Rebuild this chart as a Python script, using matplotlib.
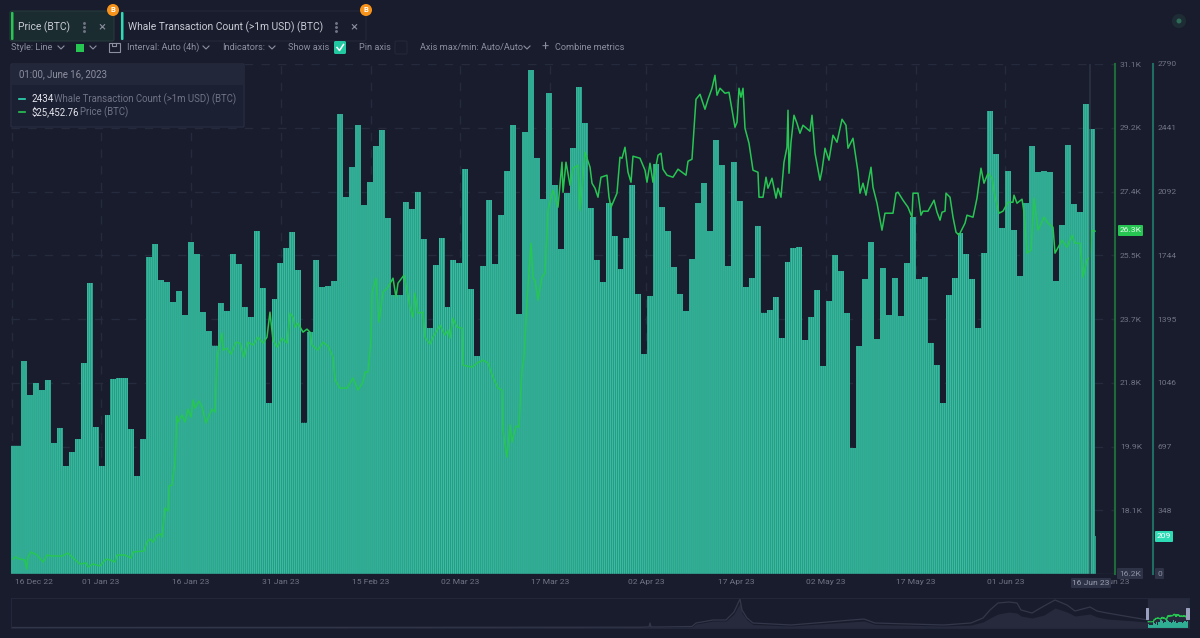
import numpy as np
import pandas as pd
import matplotlib
matplotlib.use("Agg")
import matplotlib.pyplot as plt
from matplotlib.patches import Rectangle, FancyBboxPatch, Circle

plt.rcParams['font.family'] = ['Roboto', 'DejaVu Sans']

# daily whale transaction count, 17 Dec 22 to 16 Jun 23
whale_counts = [
    702, 702, 1165, 979, 1045, 1006, 1061, 717, 799, 591, 667, 738, 1154, 1592, 804, 591, 870, 1067, 1072, 1072,
    793, 536, 738, 1734, 1805, 1608, 1597, 1488, 1548, 1417, 1816, 1750, 1433, 1329, 1250, 1482, 1439, 1750, 1696, 1460,
    1406, 1876, 1564, 935, 1504, 1701, 1783, 1871, 1663, 828, 1324, 1718, 1570, 1575, 1603, 2516, 2062, 2226, 2456, 2018,
    2144, 2341, 2429, 1947, 1526, 1526, 2035, 1997, 2090, 1832, 1346, 1690, 1838, 1460, 1718, 1701, 2215, 1559, 1192, 1685,
    2046, 1696, 1964, 2204, 2456, 1422, 2418, 2757, 2276, 2051, 2631, 2128, 1778, 2084, 2330, 2664, 2467, 2002, 1718, 1597,
    2029, 1849, 1668, 1838, 2128, 1532, 1203, 1521, 2243, 2007, 1876, 1679, 1532, 1439, 1723, 2029, 2139, 1876, 2374, 2237,
    1685, 2254, 2040, 1570, 1619, 1904, 1429, 1444, 1515, 1291, 1707, 1783, 1789, 1280, 1406, 1553, 1138, 1493, 1745, 1657,
    1428, 689, 1247, 1614, 1816, 1285, 1674, 1417, 1619, 1411, 1701, 1953, 1614, 1625, 1264, 1143, 935, 1526, 1619, 1865,
    1750, 1614, 1346, 1756, 2533, 2297, 1893, 2204, 1882, 1630, 2029, 2341, 2199, 2204, 2199, 1603, 1909, 2347, 2024, 1980,
    2571, 2434, 209,
]

# BTC price, days counted from 01 Jan 23
price_days = [
    -14.69, -14.36, -13.52, -12.69, -12.40, -12.19, -11.69, -10.68, -9.68, -9.01, -8.18, -6.51, -5.51, -4.84, -3.51,
    -2.50, -2.17, -1.34, -0.17, 0.83, 1.50, 2.34, 2.67, 4.01, 5.01, 5.34, 7.18, 7.68, 8.18, 8.68, 9.35, 10.02, 10.18,
    10.68, 11.19, 11.35, 11.85, 12.35, 12.69, 12.85, 13.52, 14.02, 14.52, 15.03, 15.36, 15.69, 16.36, 16.86, 17.53,
    17.86, 18.53, 19.03, 19.37, 19.87, 20.20, 20.37, 21.04, 21.70, 22.54, 23.21, 23.87, 24.54, 25.38, 26.21, 27.05,
    27.71, 28.21, 28.71, 29.38, 30.22, 31.05, 31.55, 32.05, 32.39, 32.89, 33.72, 34.39, 34.89, 35.23, 36.23, 37.06,
    37.90, 38.73, 39.07, 39.90, 41.07, 42.07, 42.90, 43.74, 44.07, 44.57, 45.08, 45.24, 45.91, 46.41, 47.08, 47.91,
    48.75, 49.25, 49.58, 50.58, 51.09, 51.59, 52.09, 52.42, 52.92, 53.76, 54.09, 54.92, 55.43, 56.59, 57.43, 57.93,
    58.26, 58.76, 59.43, 60.27, 60.43, 61.94, 62.77, 63.77, 64.61, 65.44, 66.28, 66.94, 67.11, 67.78, 68.28, 68.61,
    69.28, 69.78, 70.28, 70.62, 71.12, 71.79, 72.12, 72.45, 72.95, 73.62, 74.12, 74.62, 75.46, 76.29, 76.96, 77.13,
    77.63, 78.30, 78.80, 79.63, 79.97, 80.80, 81.64, 81.97, 82.47, 82.97, 83.47, 84.47, 84.81, 85.14, 86.14, 86.64,
    86.98, 87.48, 87.98, 88.48, 88.81, 89.98, 90.82, 91.15, 91.65, 92.15, 92.99, 93.49, 93.82, 94.49, 95.49, 96.33,
    97.66, 98.00, 98.66, 99.33, 100.00, 100.83, 101.34, 102.00, 102.50, 102.84, 103.34, 104.17, 104.84, 105.84,
    106.18, 106.51, 106.84, 107.18, 107.51, 108.18, 108.85, 109.68, 109.85, 110.52, 111.02, 111.35, 112.02, 112.69,
    113.02, 113.52, 114.02, 114.52, 114.69, 114.86, 115.19, 115.69, 116.19, 116.69, 117.19, 118.36, 118.70, 119.20,
    120.03, 120.37, 120.87, 121.53, 122.20, 122.87, 123.71, 124.37, 124.71, 125.54, 126.38, 126.71, 127.21, 127.71,
    128.05, 128.55, 128.88, 129.55, 130.38, 130.88, 132.22, 132.72, 133.06, 133.89, 134.72, 135.39, 135.56, 136.39,
    136.89, 137.23, 138.06, 139.07, 139.57, 140.07, 140.40, 140.90, 141.07, 141.74, 142.24, 142.74, 143.24, 144.24,
    144.57, 145.58, 146.24, 146.91, 147.41, 148.08, 148.75, 149.25, 149.92, 150.58, 151.42, 152.25, 152.42, 152.92,
    153.76, 154.09, 154.59, 155.26, 155.76, 156.43, 157.43, 158.10, 158.93, 159.27, 160.43, 161.27, 162.10, 162.60,
    163.44, 163.94, 164.60, 165.11, 165.44, 165.94,
]
prices = [
    16638, 16696, 16638, 16609, 16346, 16696, 16842, 16755, 16550, 16755, 16726, 16726, 16813, 16696, 16492,
    16521, 16404, 16492, 16434, 16638, 16609, 16550, 16755, 16755, 16667, 16842, 16872, 17134, 17222, 17134, 17339, 17368, 17280,
    18127, 18040, 18770, 18799, 19441, 20814, 20638, 20843, 20638, 21018, 20784, 21281, 21047, 21252, 21076, 20609,
    20755, 21018, 20930, 22536, 22974, 23237, 22741, 22799, 22624, 22974, 22945, 22536, 22974, 22887, 23120, 22945,
    23120, 23850, 23033, 22828, 23091, 22945, 23821, 23704, 23412, 23529, 23266, 23354, 23266, 22887, 22741, 22974,
    22858, 22536, 21865, 21631, 21631, 21923, 21573, 21806, 22098, 22098, 23033, 24405, 24843, 23558, 24434, 24580,
    24843, 24288, 24697, 24931, 24493, 23996, 23704, 24405, 23821, 23850, 23120, 22916, 23120, 23471, 23179, 23325,
    23091, 23675, 23412, 23383, 22303, 22244, 22361, 22449, 22361, 21952, 21631, 21573, 20405, 19616, 20551, 20054,
    20522, 20492, 22157, 22536, 24201, 25865, 24843, 24785, 24201, 24872, 24989, 26829, 27413, 26916, 28230, 27354,
    28230, 27559, 28055, 28143, 26829, 28522, 28084, 27617, 27471, 27208, 27792, 27851, 27208, 26916, 27325, 28376,
    28347, 28668, 27938, 27646, 28406, 28347, 27997, 27646, 28201, 27646, 28435, 28493, 28026, 27851, 27792, 28026,
    27851, 28260, 28318, 30070, 30216, 29778, 30070, 30391, 30771, 30187, 30391, 30245, 30274, 29252, 29398,
    30391, 30128, 30391, 29223, 28785, 27997, 27938, 27208, 27208, 27792, 27471, 27763, 27179, 27471,
    27208, 28230, 28668, 29749, 27909, 28814, 29603, 29369, 29077, 29311, 29136, 29603, 28493,
    27705, 27997, 28639, 28289, 29019, 28814, 29486, 29311, 28639, 28931, 27938, 27325, 27617, 27267, 27617,
    28084, 27500, 27033, 26245, 26741, 26741, 27325, 27354, 27121, 26916, 26624, 27325, 27325,
    26683, 26800, 26800, 27121, 26770, 26537, 26770, 26800, 27325, 27208, 26624, 26186, 26099, 26449,
    26683, 26624, 27179, 28055, 27617, 27909, 27763, 27208, 26741, 26800, 27062, 27062, 27267, 27033,
    27150, 26770, 25573, 25661, 27179, 26245, 26624, 26449, 26332, 25573, 25953, 25748, 26099,
    25865, 25865, 24872, 25369, 25456, 26245, 26216,
]

# long history strip under the chart
overview_pos = [0, 629, 638, 639, 640, 649, 681, 685, 702, 715, 723, 729, 731, 736, 742, 780, 853, 864, 933, 960,
                972, 979, 987, 998, 1006, 1010, 1021, 1033, 1044, 1056, 1064, 1079, 1086, 1096, 1125, 1137]
overview_line = [0.5, 0.8, 1, 5, 1, 1, 1.5, 5, 8, 8, 16, 29, 18, 10, 5, 3, 9, 5, 3, 5,
                 10, 18, 25, 26, 25, 18, 15, 22, 28, 23, 17, 21, 17, 15, 10, 8]
overview_area = [0.3, 0.5, 0.6, 5, 0.6, 0.6, 1, 4, 7, 7, 14, 25, 15, 8, 3.5, 2, 7, 3.5, 2, 3,
                 6, 10, 14, 16, 15, 12, 10, 13, 20, 16, 12, 14, 11, 9, 7, 6]

x_tick_labels = ["01 Jan 23", "16 Jan 23", "31 Jan 23", "15 Feb 23", "02 Mar 23", "17 Mar 23",
                 "02 Apr 23", "17 Apr 23", "02 May 23", "17 May 23", "01 Jun 23"]
count_ticks = [0, 348, 697, 1046, 1395, 1744, 2092, 2441, 2790]
price_ticks = [16200, 18060, 19930, 21790, 23650, 25510, 27380, 29240, 31100]
price_tick_labels = ["", "18.1K", "19.9K", "21.8K", "23.7K", "25.5K", "27.4K", "29.2K", "31.1K"]

W, H = 1200, 638
BG = '#191c2c'
GREEN = '#27c653'
TEAL = '#2ddbb5'
GREY = '#8b8f9f'
FAINT = '#6f7385'
TICK_SIZE = 6.1
PX_PER_DAY = 5.99
JAN1_PX = 101


def day(px):
    return (px - JAN1_PX) / PX_PER_DAY


def px_axes(fig, x0, y0, x1, y1, **kw):
    return fig.add_axes([x0 / W, 1 - y1 / H, (x1 - x0) / W, (y1 - y0) / H], **kw)


fig = plt.figure(figsize=(12, 6.38), dpi=100, facecolor=BG)

# main chart: counts as bars, price on its own scale
ax = px_axes(fig, 11, 64, 1115, 574)
ax.set_facecolor(BG)
ax.set_xlim(day(11), day(1115))
ax.set_ylim(0, 2790)
for s in ax.spines.values():
    s.set_visible(False)

counts = np.array(whale_counts, dtype=float)
bar_step = 0.99583
bar_end = day(1096)
edges = day(9.07) + bar_step * np.arange(len(counts))
ax.bar(edges, counts, width=np.minimum(bar_step, bar_end - edges), align='edge', color='#2a9a85', zorder=2)

# every day is made of a few thin samples, which gives the striped look
sub_n = 3
sub_w = bar_step / sub_n * 0.5
sub_edges = np.repeat(edges, sub_n) + np.tile(np.arange(sub_n) * bar_step / sub_n, len(counts)) + sub_w * 0.5
keep = sub_edges + sub_w <= bar_end
stripes = ax.bar(sub_edges[keep], np.repeat(counts, sub_n)[keep], width=sub_w, align='edge', color='#38bea2',
                 linewidth=0, zorder=3)
for patch in stripes:
    patch.set_snap(False)

tick_dates = pd.to_datetime(x_tick_labels, format="%d %b %y")
tick_days = (tick_dates - pd.Timestamp("2023-01-01")).days.values
ax.set_xticks(tick_days)
ax.set_xticklabels(x_tick_labels, fontsize=TICK_SIZE, color=FAINT)
ax.tick_params(axis='x', length=0, pad=3.5)
ax.set_yticks(count_ticks)
ax.grid(True, color='#262a3d', linewidth=1, linestyle=(0, (6, 6)), zorder=0)
ax.set_axisbelow(True)
ax.axvline(day(11.5), color='#262a3d', linewidth=1, linestyle=(0, (6, 6)), zorder=0)

ax2 = ax.twinx()
ax2.set_ylim(16200, 31100)
for s in ax2.spines.values():
    s.set_visible(False)
ax2.set_yticks(price_ticks)
ax2.set_yticklabels(price_tick_labels, fontsize=TICK_SIZE, color=FAINT)
ax2.tick_params(axis='y', length=0, pad=3.5)
ax2.plot(price_days, prices, color=GREEN, linewidth=1.1, solid_joinstyle='round', zorder=5)

# twinx moves the first scale back to the left, so put its labels out past the price labels
ax.set_yticklabels([""] + [str(v) for v in count_ticks[1:]], fontsize=TICK_SIZE, color=FAINT)
ax.tick_params(axis='y', length=0, left=False, right=False, labelleft=False, labelright=True, pad=30.5)

# crosshair on the hovered sample
ax2.axvline(day(1090), color='#33384c', linewidth=1.2, alpha=0.75, zorder=6)
ax.axhline(0, color='#2b2f42', linewidth=1, zorder=4)

# history strip
ov = px_axes(fig, 11, 598, 1189, 628)
ov.set_facecolor(BG)
ov.set_xlim(0, 1178)
ov.set_ylim(0, 30)
ov.set_xticks([])
ov.set_yticks([])
for s in ov.spines.values():
    s.set_edgecolor('#23273a')
    s.set_linewidth(0.8)
ov.fill_between(overview_pos, 0, overview_area, color='#262a3c', linewidth=0)
ov.plot(overview_pos, overview_line, color='#33374a', linewidth=0.9)
ov.add_patch(Rectangle((1137, 0), 40, 30, color='#262a3c', zorder=1.5))
to_strip = lambda d: 1137 + (np.asarray(d) - day(11)) / (day(1096) - day(11)) * 40
ov.fill_between(to_strip(edges), 0, counts / 2790 * 10, step='post', color='#2fae94', linewidth=0, zorder=2)
ov.plot(to_strip(price_days), 6 + (np.array(prices) - 16200) / 14900 * 8, color=GREEN, linewidth=0.8, zorder=3)

# controls, tooltip and tags in pixel coordinates on a transparent layer
ui = fig.add_axes([0, 0, 1, 1], facecolor='none')
ui.set_xlim(0, W)
ui.set_ylim(H, 0)
ui.axis('off')


def box(x0, y0, x1, y1, fc, ec='none', lw=0.8, r=2, z=10):
    ui.add_patch(FancyBboxPatch((x0 + r, y0 + r), x1 - x0 - 2 * r, y1 - y0 - 2 * r,
                                boxstyle=f"round,pad={r},rounding_size={r}", fc=fc, ec=ec, lw=lw, zorder=z))


def label(x, y, s, color=GREY, size=6.6, ha='left', z=12, **kw):
    ui.text(x, y, s, color=color, fontsize=size, ha=ha, va='center', zorder=z, **kw)


def chevron(x, y=47.5):
    ui.plot([x - 3, x, x + 3], [y - 1.5, y + 1.5, y - 1.5], color=GREY, lw=0.8, zorder=12)


# metric tabs
box(10, 11, 114, 41, '#1b2c30', '#263a3c')
box(11, 12, 13.5, 40, GREEN, r=1, z=11)
label(18, 27, "Price (BTC)", color='#c9ccd6', size=7.4)
box(121, 11, 366, 41, BG, '#23273a')
box(121, 12, 123.5, 40, TEAL, r=1, z=11)
label(128, 27, "Whale Transaction Count (>1m USD) (BTC)", color='#c9ccd6', size=7.4)
for x0 in (84, 336):
    ui.plot([x0] * 3, [23, 27, 31], ls='none', marker='o', ms=1.1, color=FAINT, zorder=12)
for x0 in (102, 354):
    label(x0, 26.5, "\u00d7", color=GREY, size=9.5, ha='center')
for x0 in (113, 366):
    ui.add_patch(Circle((x0, 10), 6, fc='#f7931a', ec='none', zorder=13))
    label(x0, 10, "B", color='white', size=5.5, ha='center', z=14, fontweight='bold')

# toolbar
label(11, 47.5, "Style: Line")
chevron(61)
ui.add_patch(Rectangle((76, 43.5), 8, 8, fc=GREEN, ec='none', zorder=12))
chevron(93)
ui.add_patch(Rectangle((108.5, 43), 11, 8.5, fc='none', ec=GREY, lw=0.8, zorder=12))
ui.plot([112, 112, 116, 116], [43, 46, 46, 43], color=GREY, lw=0.8, zorder=12)
label(127, 47.5, "Interval: Auto (4h)")
chevron(206)
label(222, 47.5, "Indicators:")
chevron(272)
label(288, 47.5, "Show axis")
box(334, 41, 346, 54, '#22c9a0', r=1.5)
ui.plot([337, 339.5, 343.5], [47.5, 50.5, 44.5], color='white', lw=1.1, zorder=12)
label(359, 47.5, "Pin axis")
box(395, 41, 407, 54, BG, '#23273a', r=1.5)
label(420, 47.5, "Axis max/min: Auto/Auto")
chevron(527)
label(545, 47.5, "+", ha='center', size=9)
label(555, 47.5, "Combine metrics")
ui.add_patch(Circle((1179, 21), 7, fc='#1e2c35', ec='none', zorder=10))
ui.add_patch(Circle((1179, 21), 2.5, fc='#2d6a58', ec='none', zorder=11))

# tooltip
box(11, 64, 244, 127, '#1c2033', '#2a2e43', r=1)
box(11.5, 64.5, 243.5, 85, '#23273a', r=1, z=10.5)
label(19, 74.5, "01:00, June 16, 2023", color=GREY, size=6.9)
ui.plot([19, 25], [99, 99], color=TEAL, lw=1.2, zorder=12)
label(31, 99, "2434", color='#e4e6ec', size=7.1)
label(54, 99, "Whale Transaction Count (>1m USD) (BTC)", color=FAINT, size=6.9)
ui.plot([19, 25], [112, 112], color=GREEN, lw=1.2, zorder=12)
label(31, 112, "$25,452.76", color='#e4e6ec', size=6.9)
label(80, 112, "Price (BTC)", color=FAINT, size=6.9)

# axis rails
ui.plot([1115, 1115], [64, 574], color='#1e6a3b', lw=1.5, zorder=9)
ui.plot([1153, 1153], [64, 574], color='#1f6d62', lw=1.5, zorder=9)

# value tags
box(1118, 225, 1143, 236, GREEN, r=1)
label(1130.5, 230.5, "26.3K", color='#e8f5ec', size=TICK_SIZE, ha='center')
box(1155, 531, 1173, 542, TEAL, r=1)
label(1164, 536.5, "209", color='white', size=TICK_SIZE, ha='center')
box(1117, 568, 1143, 579, '#2f3348', r=1)
label(1130, 574, "16.2K", color='#8d91a3', size=TICK_SIZE, ha='center')
box(1155, 568, 1164, 579, '#2f3348', r=1)
label(1159.5, 574, "0", color='#8d91a3', size=TICK_SIZE, ha='center')

# first and last date labels sit off their ticks
label(15, 582, "16 Dec 22", color=FAINT, size=TICK_SIZE)
label(1129, 582, "16 Jun 23", color=FAINT, size=TICK_SIZE, ha='right')
box(1071, 578, 1111, 588, '#2f3348', r=1, z=13)
label(1091, 583, "16 Jun 23", color='#9a9eaf', size=TICK_SIZE, ha='center', z=14)

# strip handles
box(1146, 608, 1149, 620, '#9aa0bd', r=0.5)
box(1186, 608, 1190, 620, '#9aa0bd', r=0.5)

fig.savefig("out.png", dpi=100, facecolor=BG)
